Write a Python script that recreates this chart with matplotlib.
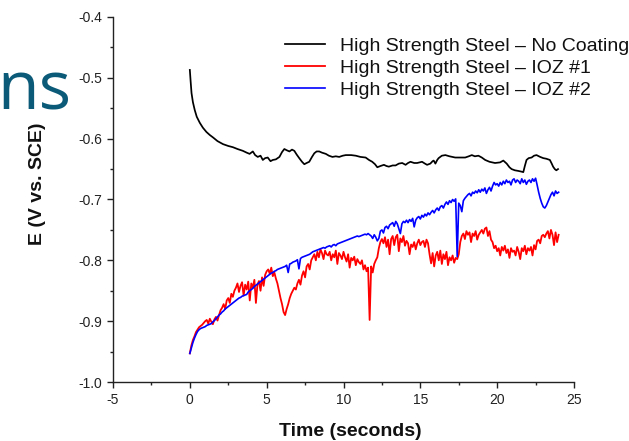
import numpy as np
import matplotlib
matplotlib.use("Agg")
import matplotlib.pyplot as plt
from matplotlib.ticker import MultipleLocator

plt.rcParams['font.family'] = ['Liberation Sans', 'DejaVu Sans']
plt.rcParams['axes.unicode_minus'] = False

# ---------------- data ----------------
labels = ["High Strength Steel \u2013 No Coating",
          "High Strength Steel \u2013 IOZ #1",
          "High Strength Steel \u2013 IOZ #2"]

black_t = [0, 0.05, 0.11, 0.2, 0.32, 0.45, 0.65, 0.85, 1.08, 1.3, 1.51, 1.8, 2.16, 2.5, 2.8,
           3.1, 3.45, 3.7, 3.89, 4.1, 4.25, 4.42, 4.6, 4.75, 4.9, 5.07, 5.25, 5.4, 5.6, 5.83,
           6.0, 6.15, 6.3, 6.48, 6.65, 6.8, 6.95, 7.12, 7.3, 7.45, 7.6, 7.77, 7.95, 8.1, 8.25,
           8.42, 8.6, 8.85, 9.05, 9.28, 9.5, 9.72, 9.95, 10.15, 10.5, 10.8, 11.1, 11.44, 11.66,
           11.87, 12.05, 12.2, 12.4, 12.63, 12.8, 12.95, 13.2, 13.39, 13.6, 13.82, 14.04, 14.2,
           14.36, 14.6, 14.79, 15.11, 15.3, 15.44, 15.65, 15.8, 15.87, 15.98, 16.1, 16.19, 16.4,
           16.63, 16.9, 17.27, 17.6, 17.92, 18.15, 18.35, 18.55, 18.78, 19.0, 19.22, 19.5, 19.86,
           20.19, 20.4, 20.62, 20.8, 20.94, 21.15, 21.37, 21.55, 21.7, 21.8, 21.91, 22.05, 22.24,
           22.4, 22.56, 22.8, 23.0, 23.2, 23.43, 23.55, 23.64, 23.75, 23.85, 23.96]
black_E = [-0.487, -0.505, -0.525, -0.540, -0.553, -0.564, -0.574, -0.582, -0.589, -0.594,
           -0.598, -0.604, -0.609, -0.612, -0.614, -0.617, -0.620, -0.623, -0.625, -0.621,
           -0.627, -0.630, -0.628, -0.635, -0.632, -0.631, -0.637, -0.635, -0.634, -0.630,
           -0.622, -0.617, -0.619, -0.621, -0.618, -0.620, -0.626, -0.632, -0.638, -0.642,
           -0.640, -0.638, -0.630, -0.624, -0.621, -0.621, -0.623, -0.625, -0.628, -0.630,
           -0.629, -0.630, -0.628, -0.627, -0.627, -0.628, -0.630, -0.631, -0.635, -0.638,
           -0.642, -0.647, -0.645, -0.643, -0.645, -0.646, -0.644, -0.644, -0.641, -0.640,
           -0.643, -0.640, -0.638, -0.640, -0.640, -0.638, -0.641, -0.643, -0.641, -0.637,
           -0.636, -0.641, -0.635, -0.632, -0.628, -0.627, -0.629, -0.631, -0.631, -0.631,
           -0.629, -0.627, -0.629, -0.628, -0.631, -0.635, -0.638, -0.640, -0.639, -0.636,
           -0.641, -0.647, -0.650, -0.652, -0.653, -0.654, -0.655, -0.645, -0.635, -0.632,
           -0.631, -0.628, -0.627, -0.630, -0.632, -0.633, -0.635, -0.641, -0.646, -0.650,
           -0.652, -0.650]

# sampled every 0.1 s from 0 to 24 s
red_E = [-0.953, -0.940, -0.931, -0.925, -0.918, -0.914, -0.910, -0.908, -0.906, -0.903, -0.900,
         -0.898, -0.904, -0.896, -0.901, -0.905, -0.897, -0.893, -0.899, -0.890, -0.882,
         -0.878, -0.872, -0.880, -0.866, -0.862, -0.870, -0.855, -0.860, -0.850, -0.845,
         -0.838, -0.852, -0.842, -0.836, -0.858, -0.840, -0.848, -0.835, -0.866, -0.838,
         -0.845, -0.832, -0.870, -0.840, -0.834, -0.850, -0.828, -0.842, -0.824, -0.818,
         -0.815, -0.822, -0.812, -0.826, -0.820, -0.830, -0.838, -0.850, -0.862, -0.872,
         -0.885, -0.890, -0.880, -0.872, -0.862, -0.855, -0.850, -0.845, -0.848, -0.838,
         -0.832, -0.840, -0.825, -0.818, -0.828, -0.810, -0.806, -0.815, -0.800, -0.795,
         -0.790, -0.800, -0.786, -0.795, -0.782, -0.788, -0.798, -0.784, -0.790, -0.792,
         -0.786, -0.800, -0.790, -0.795, -0.784, -0.806, -0.788, -0.792, -0.798, -0.786,
         -0.795, -0.802, -0.790, -0.812, -0.796, -0.800, -0.794, -0.808, -0.798, -0.803,
         -0.806, -0.800, -0.815, -0.808, -0.818, -0.812, -0.898, -0.810, -0.820, -0.806,
         -0.800, -0.795, -0.780, -0.770, -0.765, -0.772, -0.762, -0.778, -0.766, -0.790,
         -0.765, -0.760, -0.775, -0.762, -0.758, -0.785, -0.764, -0.770, -0.760, -0.776,
         -0.768, -0.772, -0.790, -0.774, -0.778, -0.770, -0.782, -0.772, -0.766, -0.775,
         -0.770, -0.768, -0.778, -0.766, -0.772, -0.790, -0.805, -0.788, -0.810, -0.792,
         -0.786, -0.800, -0.784, -0.806, -0.790, -0.798, -0.786, -0.808, -0.795, -0.800,
         -0.792, -0.804, -0.796, -0.798, -0.790, -0.770, -0.760, -0.756, -0.765, -0.752,
         -0.758, -0.754, -0.770, -0.756, -0.760, -0.752, -0.766, -0.758, -0.754, -0.750,
         -0.756, -0.748, -0.746, -0.760, -0.752, -0.766, -0.770, -0.780, -0.776, -0.785,
         -0.780, -0.792, -0.778, -0.784, -0.776, -0.788, -0.782, -0.796, -0.780, -0.786,
         -0.784, -0.792, -0.778, -0.786, -0.798, -0.780, -0.785, -0.776, -0.790, -0.780,
         -0.784, -0.778, -0.792, -0.775, -0.782, -0.768, -0.766, -0.772, -0.760, -0.758,
         -0.762, -0.756, -0.752, -0.764, -0.750, -0.758, -0.775, -0.754, -0.770, -0.758]

blue_E = [-0.953, -0.944, -0.935, -0.928, -0.922, -0.917, -0.914, -0.912, -0.911, -0.910, -0.909,
          -0.907, -0.906, -0.905, -0.904, -0.901, -0.899, -0.896, -0.893, -0.890, -0.888,
          -0.885, -0.883, -0.880, -0.878, -0.876, -0.874, -0.872, -0.870, -0.868, -0.866,
          -0.864, -0.862, -0.861, -0.859, -0.858, -0.857, -0.856, -0.852, -0.850, -0.848,
          -0.846, -0.843, -0.841, -0.839, -0.837, -0.835, -0.833, -0.831, -0.829, -0.827,
          -0.825, -0.823, -0.821, -0.820, -0.818, -0.817, -0.815, -0.814, -0.813, -0.812,
          -0.811, -0.810, -0.808, -0.820, -0.806, -0.805, -0.803, -0.802, -0.801, -0.799,
          -0.814, -0.797, -0.795, -0.794, -0.793, -0.792, -0.791, -0.790, -0.788, -0.786,
          -0.785, -0.784, -0.783, -0.782, -0.781, -0.780, -0.779, -0.780, -0.778, -0.777,
          -0.776, -0.778, -0.775, -0.774, -0.776, -0.773, -0.772, -0.771, -0.770, -0.769,
          -0.768, -0.767, -0.766, -0.765, -0.764, -0.763, -0.762, -0.761, -0.760, -0.761,
          -0.760, -0.759, -0.758, -0.757, -0.758, -0.756, -0.758, -0.760, -0.764, -0.758,
          -0.762, -0.768, -0.764, -0.752, -0.750, -0.755, -0.746, -0.744, -0.748, -0.742,
          -0.740, -0.738, -0.744, -0.736, -0.740, -0.748, -0.756, -0.740, -0.736, -0.738,
          -0.734, -0.738, -0.733, -0.736, -0.731, -0.745, -0.734, -0.730, -0.728, -0.732,
          -0.726, -0.729, -0.724, -0.727, -0.722, -0.725, -0.721, -0.718, -0.722, -0.717,
          -0.714, -0.718, -0.712, -0.710, -0.714, -0.708, -0.704, -0.708, -0.702, -0.705,
          -0.700, -0.703, -0.699, -0.794, -0.706, -0.710, -0.720, -0.702, -0.698, -0.695,
          -0.692, -0.690, -0.694, -0.688, -0.690, -0.686, -0.689, -0.684, -0.688, -0.683,
          -0.686, -0.681, -0.690, -0.684, -0.680, -0.686, -0.678, -0.672, -0.676, -0.674,
          -0.678, -0.672, -0.676, -0.670, -0.674, -0.668, -0.672, -0.670, -0.676, -0.668,
          -0.666, -0.672, -0.668, -0.670, -0.674, -0.666, -0.672, -0.668, -0.675, -0.670,
          -0.668, -0.672, -0.666, -0.670, -0.665, -0.676, -0.688, -0.698, -0.706, -0.712,
          -0.714, -0.710, -0.704, -0.698, -0.692, -0.688, -0.694, -0.686, -0.690, -0.688]

sample_t = np.linspace(0, 24, len(red_E))

x_ticks = [-5, 0, 5, 10, 15, 20, 25]
y_ticks = [-1.0, -0.9, -0.8, -0.7, -0.6, -0.5, -0.4]

# ---------------- figure ----------------
W, H = 629, 441
fig = plt.figure(figsize=(W / 100, H / 100), dpi=100)
ax = fig.add_axes([113 / W, 1 - 382 / H, (574 - 113) / W, (382 - 17) / H])

ax.plot(black_t, black_E, color='black', lw=1.25, label=labels[0], zorder=3)
ax.plot(sample_t, red_E, color='#ff0000', lw=1.3, label=labels[1], zorder=2)
ax.plot(sample_t, blue_E, color='#0000ff', lw=1.2, label=labels[2], zorder=2.5)

ax.set_xlim(-5, 25)
ax.set_ylim(-1.0, -0.4)
ax.set_xticks(x_ticks)
ax.set_xticklabels([str(v) for v in x_ticks])
ax.set_yticks(y_ticks)
ax.set_yticklabels([f"{v:.1f}" for v in y_ticks])
ax.xaxis.set_minor_locator(MultipleLocator(2.5))
ax.yaxis.set_minor_locator(MultipleLocator(0.05))

for s in ['top', 'right']:
    ax.spines[s].set_visible(False)
for s in ['left', 'bottom']:
    ax.spines[s].set_linewidth(1.0)
    ax.spines[s].set_color('#222222')

ax.tick_params(which='major', direction='out', length=4.5, width=1.0, labelsize=10,
               color='#222222', labelcolor='#222222', pad=3.5)
ax.tick_params(which='minor', direction='out', length=2.5, width=1.0, color='#222222')

fig.text(350 / W, 1 - 431 / H, "Time (seconds)", ha='center', va='center',
         fontsize=14, fontweight='bold', color='#111111')
fig.text(37 / W, 1 - 184 / H, "E (V vs. SCE)", ha='center', va='center', rotation=90,
         fontsize=14, fontweight='bold', color='#111111')

leg = ax.legend(loc='upper left', bbox_to_anchor=(285 / W, 1 - 37 / H),
                bbox_transform=fig.transFigure, frameon=False, fontsize=14,
                handlelength=2.05, handletextpad=0.77, labelspacing=0.23,
                borderpad=0, borderaxespad=0)
for t in leg.get_texts():
    t.set_color('#111111')

fig.text(-3 / W, 1 - 110 / H, "ns", ha='left', va='baseline', fontsize=49,
         family='Open Sans', color='#0b5a78')

fig.savefig("out.png", dpi=100)
